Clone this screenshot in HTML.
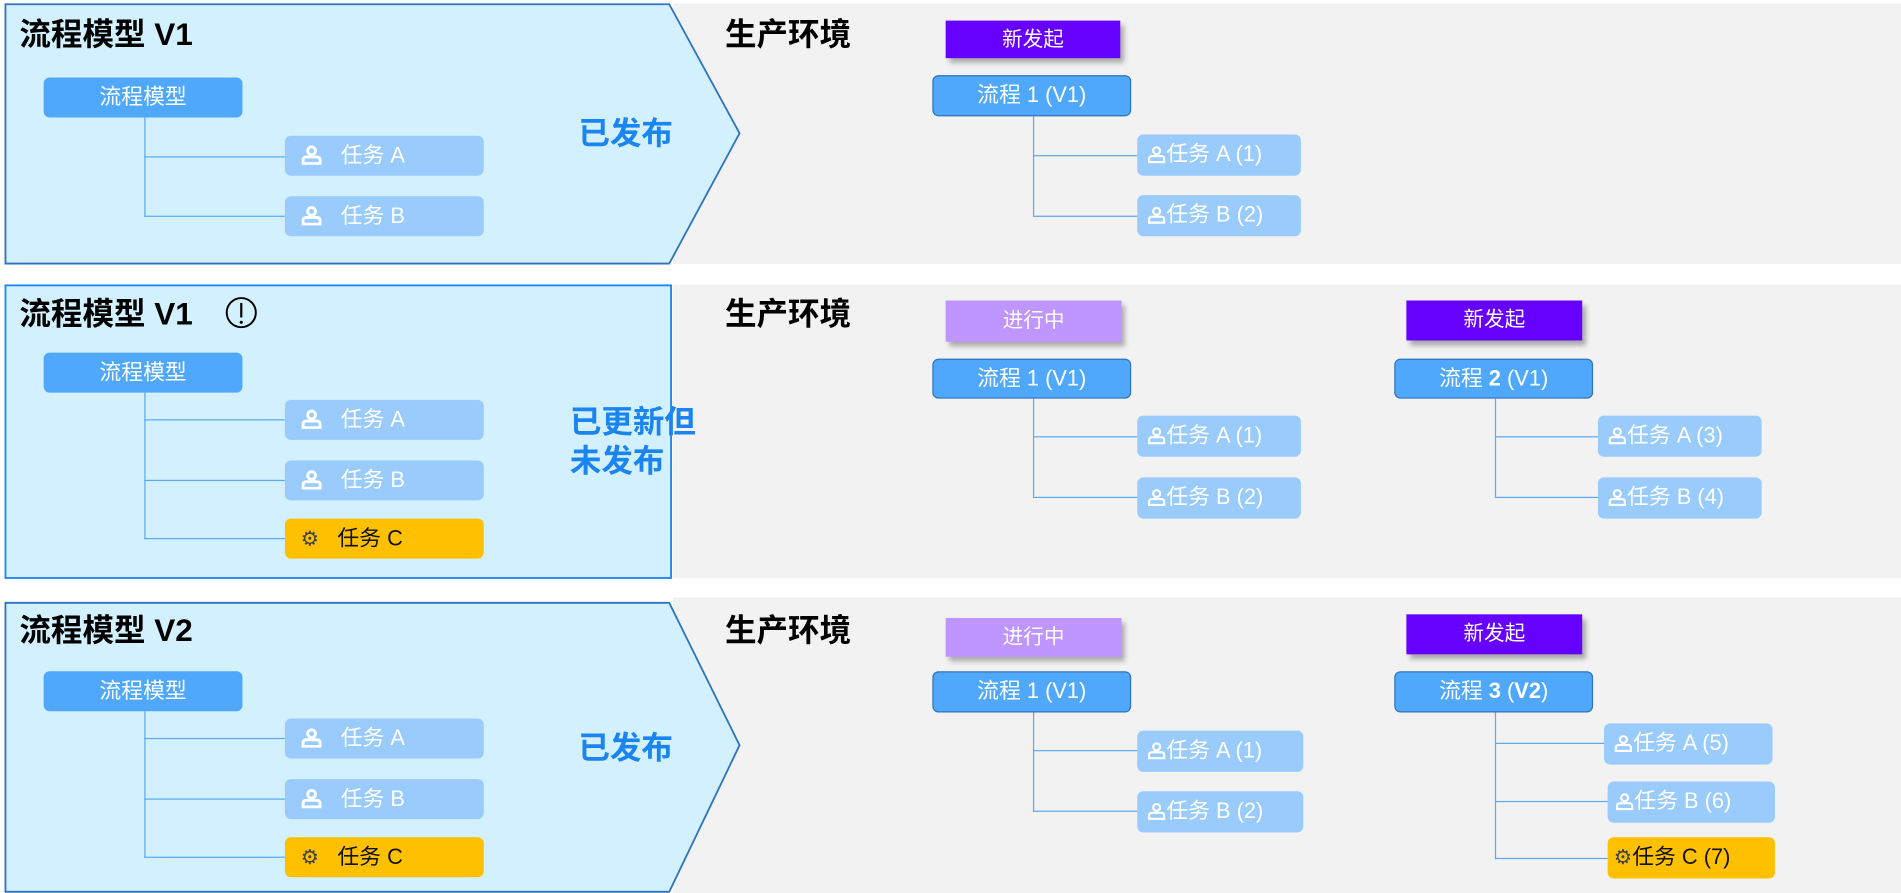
<!DOCTYPE html>
<html><head><meta charset="utf-8">
<style>
html,body{margin:0;padding:0;background:#fff;overflow:hidden;width:1901px;height:893px}
#w{position:absolute;left:0;top:0;width:1568px;height:737px;transform-origin:0 0;transform:scale(1.2124,1.2117);font-family:"Liberation Sans","Noto Sans CJK SC",sans-serif}
#w div{position:absolute;box-sizing:border-box}
.gray{background:#f2f2f2}
.t{font-size:26px;font-weight:bold;color:#000;white-space:nowrap;line-height:30px}
.m{background:#4fa8fc;border-radius:5px;color:#fff;font-size:18px;text-align:center;line-height:33px}
.p{background:#4fa8fc;border:1.5px solid #2f73bd;border-radius:5px;color:#fff;font-size:18px;text-align:center;line-height:30px}
.k{background:#99cbfc;border-radius:5px;color:#fff;font-size:18px;line-height:33px;white-space:nowrap}
.y{background:#ffc000;border-radius:5px;color:#111;font-size:18px;line-height:33px;white-space:nowrap}
.v{border-left:1px solid #5aaaf2}
.h{border-top:1px solid #5aaaf2}
.s{color:#fff;font-size:17px;text-align:center;line-height:31px;box-shadow:3px 4px 4px rgba(0,0,0,.3)}
.pub{color:#1a85f0;font-weight:bold;font-size:26px;line-height:32px;white-space:nowrap}
svg.u{display:inline-block;vertical-align:-2px}
.g{display:inline-block;font-size:17px;color:#444;vertical-align:0}
</style></head><body><div id="w">
<div class="gray" style="left:555px;top:3px;width:1013px;height:215px"></div>
<div class="gray" style="left:555px;top:235px;width:1013px;height:242px"></div>
<div class="gray" style="left:555px;top:493px;width:1013px;height:244px"></div>
<svg style="position:absolute;left:0;top:0" width="1568" height="737">
<polygon points="4.5,3.5 552,3.5 610,110 552,217.5 4.5,217.5" fill="#d2f0fd" stroke="#2f73bd" stroke-width="1.5"/>
<rect x="4.5" y="235.5" width="549" height="241.5" fill="#d2f0fd" stroke="#1a85f0" stroke-width="1.5"/>
<polygon points="4.5,497.5 552,497.5 610,615 552,736 4.5,736" fill="#d2f0fd" stroke="#2f73bd" stroke-width="1.5"/>
<circle cx="199" cy="258" r="12" fill="none" stroke="#000" stroke-width="1.6"/>
<line x1="199" y1="250" x2="199" y2="262" stroke="#000" stroke-width="1.8"/>
<circle cx="199" cy="266" r="1.3" fill="#000"/>
</svg>

<!-- Row 1 -->
<div class="t" style="left:16px;top:13px">流程模型 V1</div>
<div class="t" style="left:598px;top:13px">生产环境</div>
<div class="m" style="left:36px;top:64px;width:164px;height:33px">流程模型</div>
<div class="v" style="left:119px;top:97px;height:82px"></div>
<div class="h" style="left:119px;top:129px;width:116px"></div>
<div class="h" style="left:119px;top:178px;width:116px"></div>
<div class="k" style="left:235px;top:112px;width:164px;height:33px;padding-left:13px"><svg class="u" width="18" height="16" viewBox="0 0 18 16"><circle cx="9" cy="4.5" r="3.2" fill="none" stroke="#fff" stroke-width="2.4"/><path d="M2 15 V12 Q2 9.5 5 9.5 H13 Q16 9.5 16 12 V15 Z" fill="none" stroke="#fff" stroke-width="2.4"/></svg>&nbsp;&nbsp;&nbsp;任务 A</div>
<div class="k" style="left:235px;top:162px;width:164px;height:33px;padding-left:13px"><svg class="u" width="18" height="16" viewBox="0 0 18 16"><circle cx="9" cy="4.5" r="3.2" fill="none" stroke="#fff" stroke-width="2.4"/><path d="M2 15 V12 Q2 9.5 5 9.5 H13 Q16 9.5 16 12 V15 Z" fill="none" stroke="#fff" stroke-width="2.4"/></svg>&nbsp;&nbsp;&nbsp;任务 B</div>
<div class="pub" style="left:477px;top:94px">已发布</div>
<div class="s" style="left:780px;top:17px;width:144px;height:31px;background:#6600ff">新发起</div>
<div class="p" style="left:769px;top:62px;width:164px;height:34px">流程 1 (V1)</div>
<div class="v" style="left:852px;top:96px;height:83px"></div>
<div class="h" style="left:852px;top:128px;width:86px"></div>
<div class="h" style="left:852px;top:178px;width:86px"></div>
<div class="k" style="left:938px;top:111px;width:135px;height:34px;padding-left:8px"><svg class="u" width="16" height="15" viewBox="0 0 18 16"><circle cx="9" cy="4.5" r="3.2" fill="none" stroke="#fff" stroke-width="2"/><path d="M2 15 V12 Q2 9.5 5 9.5 H13 Q16 9.5 16 12 V15 Z" fill="none" stroke="#fff" stroke-width="2"/></svg>任务 A (1)</div>
<div class="k" style="left:938px;top:161px;width:135px;height:34px;padding-left:8px"><svg class="u" width="16" height="15" viewBox="0 0 18 16"><circle cx="9" cy="4.5" r="3.2" fill="none" stroke="#fff" stroke-width="2"/><path d="M2 15 V12 Q2 9.5 5 9.5 H13 Q16 9.5 16 12 V15 Z" fill="none" stroke="#fff" stroke-width="2"/></svg>任务 B (2)</div>

<!-- Row 2 -->
<div class="t" style="left:16px;top:244px">流程模型 V1</div>
<div class="t" style="left:598px;top:244px">生产环境</div>
<div class="m" style="left:36px;top:291px;width:164px;height:33px">流程模型</div>
<div class="v" style="left:119px;top:324px;height:121px"></div>
<div class="h" style="left:119px;top:346px;width:116px"></div>
<div class="h" style="left:119px;top:396px;width:116px"></div>
<div class="h" style="left:119px;top:444px;width:116px"></div>
<div class="k" style="left:235px;top:330px;width:164px;height:33px;padding-left:13px"><svg class="u" width="18" height="16" viewBox="0 0 18 16"><circle cx="9" cy="4.5" r="3.2" fill="none" stroke="#fff" stroke-width="2.4"/><path d="M2 15 V12 Q2 9.5 5 9.5 H13 Q16 9.5 16 12 V15 Z" fill="none" stroke="#fff" stroke-width="2.4"/></svg>&nbsp;&nbsp;&nbsp;任务 A</div>
<div class="k" style="left:235px;top:380px;width:164px;height:33px;padding-left:13px"><svg class="u" width="18" height="16" viewBox="0 0 18 16"><circle cx="9" cy="4.5" r="3.2" fill="none" stroke="#fff" stroke-width="2.4"/><path d="M2 15 V12 Q2 9.5 5 9.5 H13 Q16 9.5 16 12 V15 Z" fill="none" stroke="#fff" stroke-width="2.4"/></svg>&nbsp;&nbsp;&nbsp;任务 B</div>
<div class="y" style="left:235px;top:428px;width:164px;height:33px;padding-left:13px"><span class="g">&#9881;</span>&nbsp;&nbsp;&nbsp;任务 C</div>
<div class="pub" style="left:470px;top:332px">已更新但<br>未发布</div>
<div class="s" style="left:780px;top:248px;width:145px;height:34px;background:#bf95ff;line-height:34px">进行中</div>
<div class="p" style="left:769px;top:296px;width:164px;height:33px">流程 1 (V1)</div>
<div class="v" style="left:852px;top:329px;height:81px"></div>
<div class="h" style="left:852px;top:360px;width:86px"></div>
<div class="h" style="left:852px;top:410px;width:86px"></div>
<div class="k" style="left:938px;top:343px;width:135px;height:34px;padding-left:8px"><svg class="u" width="16" height="15" viewBox="0 0 18 16"><circle cx="9" cy="4.5" r="3.2" fill="none" stroke="#fff" stroke-width="2"/><path d="M2 15 V12 Q2 9.5 5 9.5 H13 Q16 9.5 16 12 V15 Z" fill="none" stroke="#fff" stroke-width="2"/></svg>任务 A (1)</div>
<div class="k" style="left:938px;top:394px;width:135px;height:34px;padding-left:8px"><svg class="u" width="16" height="15" viewBox="0 0 18 16"><circle cx="9" cy="4.5" r="3.2" fill="none" stroke="#fff" stroke-width="2"/><path d="M2 15 V12 Q2 9.5 5 9.5 H13 Q16 9.5 16 12 V15 Z" fill="none" stroke="#fff" stroke-width="2"/></svg>任务 B (2)</div>
<div class="s" style="left:1160px;top:248px;width:145px;height:33px;background:#6600ff">新发起</div>
<div class="p" style="left:1150px;top:296px;width:164px;height:33px">流程 <b>2</b> (V1)</div>
<div class="v" style="left:1233px;top:329px;height:81px"></div>
<div class="h" style="left:1233px;top:360px;width:86px"></div>
<div class="h" style="left:1233px;top:410px;width:86px"></div>
<div class="k" style="left:1318px;top:343px;width:135px;height:34px;padding-left:8px"><svg class="u" width="16" height="15" viewBox="0 0 18 16"><circle cx="9" cy="4.5" r="3.2" fill="none" stroke="#fff" stroke-width="2"/><path d="M2 15 V12 Q2 9.5 5 9.5 H13 Q16 9.5 16 12 V15 Z" fill="none" stroke="#fff" stroke-width="2"/></svg>任务 A (3)</div>
<div class="k" style="left:1318px;top:394px;width:135px;height:34px;padding-left:8px"><svg class="u" width="16" height="15" viewBox="0 0 18 16"><circle cx="9" cy="4.5" r="3.2" fill="none" stroke="#fff" stroke-width="2"/><path d="M2 15 V12 Q2 9.5 5 9.5 H13 Q16 9.5 16 12 V15 Z" fill="none" stroke="#fff" stroke-width="2"/></svg>任务 B (4)</div>

<!-- Row 3 -->
<div class="t" style="left:16px;top:505px">流程模型 V2</div>
<div class="t" style="left:598px;top:505px">生产环境</div>
<div class="m" style="left:36px;top:554px;width:164px;height:33px">流程模型</div>
<div class="v" style="left:119px;top:587px;height:121px"></div>
<div class="h" style="left:119px;top:609px;width:116px"></div>
<div class="h" style="left:119px;top:659px;width:116px"></div>
<div class="h" style="left:119px;top:707px;width:116px"></div>
<div class="k" style="left:235px;top:593px;width:164px;height:33px;padding-left:13px"><svg class="u" width="18" height="16" viewBox="0 0 18 16"><circle cx="9" cy="4.5" r="3.2" fill="none" stroke="#fff" stroke-width="2.4"/><path d="M2 15 V12 Q2 9.5 5 9.5 H13 Q16 9.5 16 12 V15 Z" fill="none" stroke="#fff" stroke-width="2.4"/></svg>&nbsp;&nbsp;&nbsp;任务 A</div>
<div class="k" style="left:235px;top:643px;width:164px;height:33px;padding-left:13px"><svg class="u" width="18" height="16" viewBox="0 0 18 16"><circle cx="9" cy="4.5" r="3.2" fill="none" stroke="#fff" stroke-width="2.4"/><path d="M2 15 V12 Q2 9.5 5 9.5 H13 Q16 9.5 16 12 V15 Z" fill="none" stroke="#fff" stroke-width="2.4"/></svg>&nbsp;&nbsp;&nbsp;任务 B</div>
<div class="y" style="left:235px;top:691px;width:164px;height:33px;padding-left:13px"><span class="g">&#9881;</span>&nbsp;&nbsp;&nbsp;任务 C</div>
<div class="pub" style="left:477px;top:601px">已发布</div>
<div class="s" style="left:780px;top:510px;width:145px;height:32px;background:#bf95ff">进行中</div>
<div class="p" style="left:769px;top:554px;width:164px;height:34px">流程 1 (V1)</div>
<div class="v" style="left:852px;top:588px;height:82px"></div>
<div class="h" style="left:852px;top:619px;width:86px"></div>
<div class="h" style="left:852px;top:669px;width:86px"></div>
<div class="k" style="left:938px;top:603px;width:137px;height:34px;padding-left:8px"><svg class="u" width="16" height="15" viewBox="0 0 18 16"><circle cx="9" cy="4.5" r="3.2" fill="none" stroke="#fff" stroke-width="2"/><path d="M2 15 V12 Q2 9.5 5 9.5 H13 Q16 9.5 16 12 V15 Z" fill="none" stroke="#fff" stroke-width="2"/></svg>任务 A (1)</div>
<div class="k" style="left:938px;top:653px;width:137px;height:34px;padding-left:8px"><svg class="u" width="16" height="15" viewBox="0 0 18 16"><circle cx="9" cy="4.5" r="3.2" fill="none" stroke="#fff" stroke-width="2"/><path d="M2 15 V12 Q2 9.5 5 9.5 H13 Q16 9.5 16 12 V15 Z" fill="none" stroke="#fff" stroke-width="2"/></svg>任务 B (2)</div>
<div class="s" style="left:1160px;top:507px;width:145px;height:33px;background:#6600ff">新发起</div>
<div class="p" style="left:1150px;top:554px;width:164px;height:34px">流程 <b>3</b> (<b>V2</b>)</div>
<div class="v" style="left:1233px;top:588px;height:121px"></div>
<div class="h" style="left:1233px;top:613px;width:90px"></div>
<div class="h" style="left:1233px;top:661px;width:93px"></div>
<div class="h" style="left:1233px;top:708px;width:93px"></div>
<div class="k" style="left:1323px;top:597px;width:139px;height:34px;padding-left:8px"><svg class="u" width="16" height="15" viewBox="0 0 18 16"><circle cx="9" cy="4.5" r="3.2" fill="none" stroke="#fff" stroke-width="2"/><path d="M2 15 V12 Q2 9.5 5 9.5 H13 Q16 9.5 16 12 V15 Z" fill="none" stroke="#fff" stroke-width="2"/></svg>任务 A (5)</div>
<div class="k" style="left:1326px;top:645px;width:138px;height:34px;padding-left:6px"><svg class="u" width="16" height="15" viewBox="0 0 18 16"><circle cx="9" cy="4.5" r="3.2" fill="none" stroke="#fff" stroke-width="2"/><path d="M2 15 V12 Q2 9.5 5 9.5 H13 Q16 9.5 16 12 V15 Z" fill="none" stroke="#fff" stroke-width="2"/></svg>任务 B (6)</div>
<div class="y" style="left:1326px;top:691px;width:138px;height:34px;padding-left:5px"><span class="g">&#9881;</span>任务 C (7)</div>
</div></body></html>
